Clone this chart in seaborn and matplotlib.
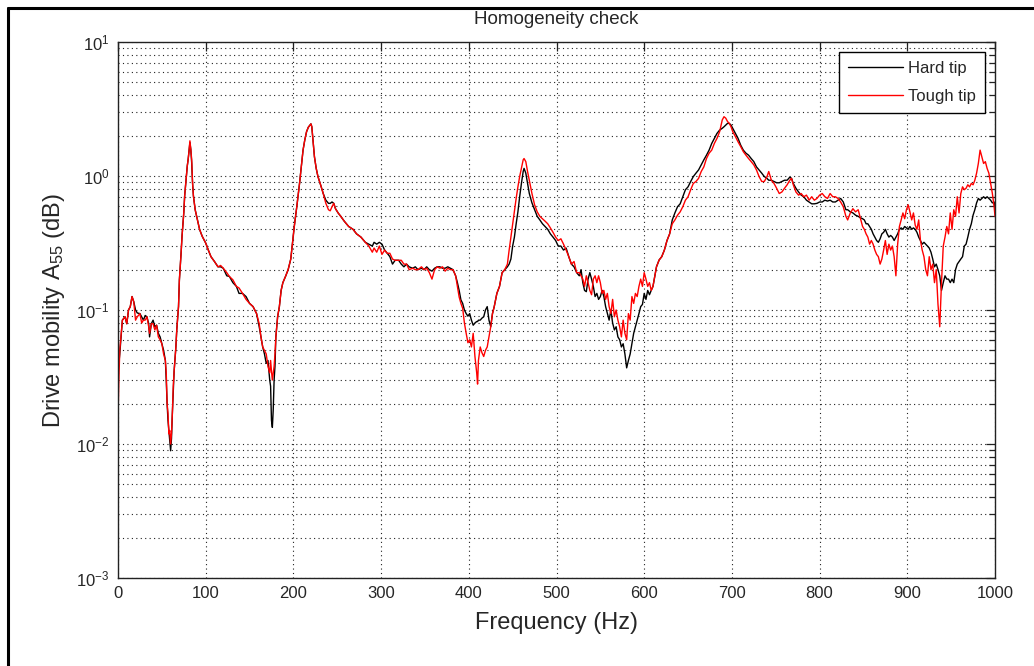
import numpy as np
import pandas as pd
import matplotlib
matplotlib.use("Agg")
import matplotlib.pyplot as plt
import seaborn as sns
from matplotlib.lines import Line2D
from matplotlib.ticker import LogLocator, NullFormatter, MultipleLocator

# ---------------- data ----------------
freq = [
    0, 1, 2, 5, 8, 10, 12, 14, 16, 18,
    20, 22, 25, 27, 29, 31, 33, 35, 36, 38,
    40, 42, 44, 46, 48, 50, 52, 54, 55, 56,
    57, 58, 59, 60, 61, 62, 63, 64, 66, 67,
    69, 70, 72, 73, 75, 76, 78, 79, 80, 81,
    82, 83, 84, 85, 86, 88, 90, 93, 96, 100,
    103, 106, 110, 114, 117, 120, 124, 127, 131, 135,
    138, 142, 146, 150, 154, 158, 161, 163, 165, 167,
    169, 171, 173, 174, 175, 176, 177, 178, 179, 180,
    182, 184, 186, 188, 191, 194, 197, 199, 201, 204,
    207, 209, 211, 213, 215, 217, 219, 220, 221, 222,
    224, 226, 228, 231, 234, 237, 240, 242, 244, 246,
    248, 251, 254, 258, 263, 268, 272, 277, 282, 286,
    290, 292, 295, 298, 301, 304, 307, 310, 313, 316,
    320, 323, 326, 329, 332, 336, 339, 342, 346, 349,
    352, 355, 358, 361, 364, 367, 370, 373, 376, 379,
    382, 385, 387, 389, 391, 393, 395, 397, 399, 401,
    403, 405, 407, 409, 410, 411, 413, 415, 417, 419,
    421, 423, 425, 427, 429, 432, 435, 438, 441, 444,
    446, 448, 450, 452, 454, 456, 458, 460, 462, 463,
    465, 467, 469, 472, 475, 478, 481, 484, 487, 490,
    493, 496, 499, 502, 505, 508, 511, 514, 517, 520,
    523, 526, 528, 530, 532, 534, 536, 538, 540, 542,
    544, 546, 548, 550, 552, 554, 556, 558, 560, 562,
    564, 566, 568, 570, 572, 574, 576, 578, 580, 582,
    584, 586, 588, 590, 592, 594, 596, 598, 600, 602,
    604, 606, 608, 610, 612, 614, 617, 620, 623, 626,
    629, 632, 635, 638, 641, 644, 647, 650, 653, 656,
    659, 662, 665, 668, 671, 674, 677, 680, 683, 686,
    689, 691, 693, 695, 697, 699, 701, 704, 707, 710,
    713, 716, 719, 722, 725, 728, 731, 734, 737, 740,
    742, 745, 748, 751, 754, 757, 760, 763, 766, 768,
    770, 773, 776, 779, 782, 785, 788, 791, 794, 797,
    800, 803, 806, 809, 812, 815, 818, 821, 824, 827,
    830, 832, 835, 838, 841, 844, 846, 849, 851, 853,
    855, 857, 859, 861, 863, 865, 867, 869, 871, 873,
    875, 877, 879, 881, 883, 885, 887, 889, 891, 893,
    895, 897, 899, 901, 903, 905, 907, 909, 911, 913,
    915, 917, 919, 921, 923, 925, 927, 929, 931, 933,
    935, 937, 939, 941, 943, 945, 947, 949, 951, 953,
    955, 957, 959, 961, 963, 965, 967, 969, 971, 973,
    975, 977, 979, 981, 983, 985, 987, 989, 991, 993,
    995, 997, 999, 1000,
]

hard_tip = [
    0.035, 0.040, 0.047, 0.084, 0.089, 0.079, 0.100, 0.106, 0.126, 0.115,
    0.100, 0.095, 0.094, 0.089, 0.084, 0.091, 0.089, 0.079, 0.063, 0.079,
    0.084, 0.075, 0.077, 0.067, 0.063, 0.056, 0.050, 0.042, 0.030, 0.020,
    0.015, 0.0126, 0.0105, 0.0089, 0.011, 0.017, 0.024, 0.035, 0.053, 0.071,
    0.106, 0.168, 0.27, 0.355, 0.53, 0.71, 1.00, 1.19, 1.33, 1.54,
    1.78, 1.58, 1.26, 0.89, 0.71, 0.56, 0.49, 0.40, 0.355, 0.316,
    0.28, 0.25, 0.23, 0.21, 0.21, 0.205, 0.18, 0.178, 0.16, 0.15,
    0.133, 0.133, 0.126, 0.112, 0.106, 0.094, 0.075, 0.063, 0.053, 0.047,
    0.040, 0.042, 0.030, 0.027, 0.015, 0.0133, 0.018, 0.030, 0.038, 0.063,
    0.089, 0.106, 0.14, 0.16, 0.178, 0.20, 0.24, 0.316, 0.42, 0.60,
    0.88, 1.17, 1.56, 1.86, 2.14, 2.31, 2.40, 2.45, 2.33, 1.97,
    1.39, 1.14, 0.99, 0.86, 0.74, 0.66, 0.625, 0.625, 0.64, 0.625,
    0.57, 0.53, 0.50, 0.46, 0.42, 0.40, 0.37, 0.35, 0.32, 0.31,
    0.30, 0.32, 0.31, 0.32, 0.31, 0.28, 0.265, 0.25, 0.22, 0.235,
    0.235, 0.22, 0.21, 0.22, 0.21, 0.205, 0.21, 0.20, 0.205, 0.20,
    0.21, 0.20, 0.195, 0.205, 0.21, 0.21, 0.205, 0.205, 0.21, 0.205,
    0.20, 0.18, 0.16, 0.14, 0.119, 0.112, 0.100, 0.094, 0.090, 0.094,
    0.084, 0.077, 0.080, 0.082, 0.082, 0.084, 0.084, 0.087, 0.089, 0.100,
    0.106, 0.084, 0.075, 0.094, 0.106, 0.133, 0.15, 0.19, 0.20, 0.21,
    0.22, 0.24, 0.30, 0.35, 0.44, 0.54, 0.70, 0.88, 1.08, 1.14,
    1.05, 0.88, 0.74, 0.63, 0.56, 0.50, 0.47, 0.44, 0.42, 0.40,
    0.37, 0.35, 0.33, 0.30, 0.30, 0.28, 0.29, 0.25, 0.22, 0.21,
    0.19, 0.18, 0.20, 0.16, 0.14, 0.137, 0.17, 0.19, 0.17, 0.15,
    0.126, 0.133, 0.12, 0.126, 0.14, 0.126, 0.106, 0.094, 0.084, 0.10,
    0.08, 0.071, 0.075, 0.063, 0.060, 0.053, 0.056, 0.047, 0.037, 0.042,
    0.047, 0.056, 0.067, 0.075, 0.084, 0.094, 0.106, 0.11, 0.133, 0.12,
    0.14, 0.13, 0.14, 0.15, 0.177, 0.21, 0.236, 0.25, 0.28, 0.33,
    0.37, 0.47, 0.53, 0.59, 0.62, 0.70, 0.79, 0.83, 0.91, 0.99,
    1.05, 1.11, 1.21, 1.32, 1.43, 1.56, 1.75, 1.91, 2.08, 2.20,
    2.27, 2.33, 2.40, 2.47, 2.47, 2.40, 2.27, 2.08, 1.91, 1.70,
    1.56, 1.48, 1.43, 1.35, 1.28, 1.17, 1.11, 1.05, 0.99, 0.96,
    0.93, 0.93, 0.91, 0.89, 0.89, 0.91, 0.93, 0.93, 0.98, 0.96,
    0.88, 0.81, 0.76, 0.72, 0.70, 0.66, 0.64, 0.62, 0.62, 0.625,
    0.64, 0.64, 0.66, 0.65, 0.66, 0.64, 0.64, 0.66, 0.68, 0.64,
    0.56, 0.56, 0.54, 0.53, 0.51, 0.50, 0.49, 0.48, 0.47, 0.44,
    0.44, 0.42, 0.40, 0.37, 0.35, 0.33, 0.32, 0.34, 0.37, 0.38,
    0.40, 0.37, 0.35, 0.36, 0.35, 0.33, 0.35, 0.37, 0.40, 0.41,
    0.40, 0.42, 0.41, 0.40, 0.42, 0.40, 0.41, 0.40, 0.38, 0.35,
    0.33, 0.31, 0.32, 0.31, 0.30, 0.29, 0.27, 0.24, 0.21, 0.22,
    0.20, 0.18, 0.14, 0.16, 0.18, 0.17, 0.17, 0.16, 0.17, 0.16,
    0.20, 0.22, 0.23, 0.24, 0.25, 0.30, 0.31, 0.35, 0.40, 0.44,
    0.51, 0.56, 0.63, 0.68, 0.66, 0.68, 0.70, 0.68, 0.70, 0.68,
    0.66, 0.63, 0.64, 0.57,
]

tough_tip = [
    0.016, 0.030, 0.050, 0.084, 0.089, 0.079, 0.100, 0.106, 0.126, 0.115,
    0.084, 0.089, 0.094, 0.080, 0.084, 0.084, 0.089, 0.075, 0.067, 0.079,
    0.079, 0.071, 0.077, 0.063, 0.060, 0.056, 0.047, 0.042, 0.034, 0.020,
    0.017, 0.0119, 0.0126, 0.0100, 0.012, 0.017, 0.027, 0.035, 0.053, 0.071,
    0.106, 0.168, 0.27, 0.355, 0.53, 0.71, 1.00, 1.19, 1.33, 1.54,
    1.83, 1.58, 1.33, 0.89, 0.71, 0.56, 0.49, 0.40, 0.355, 0.316,
    0.28, 0.25, 0.23, 0.21, 0.215, 0.205, 0.19, 0.178, 0.168, 0.15,
    0.146, 0.133, 0.12, 0.112, 0.106, 0.094, 0.079, 0.063, 0.053, 0.050,
    0.047, 0.038, 0.034, 0.042, 0.035, 0.030, 0.034, 0.038, 0.047, 0.063,
    0.089, 0.106, 0.14, 0.16, 0.178, 0.20, 0.24, 0.316, 0.42, 0.60,
    0.88, 1.17, 1.56, 1.86, 2.14, 2.31, 2.40, 2.45, 2.33, 1.97,
    1.39, 1.14, 0.99, 0.86, 0.74, 0.625, 0.56, 0.55, 0.59, 0.625,
    0.57, 0.53, 0.50, 0.46, 0.42, 0.40, 0.37, 0.35, 0.32, 0.30,
    0.27, 0.29, 0.27, 0.30, 0.26, 0.28, 0.265, 0.265, 0.24, 0.235,
    0.235, 0.235, 0.22, 0.22, 0.20, 0.205, 0.20, 0.20, 0.21, 0.20,
    0.205, 0.19, 0.17, 0.20, 0.21, 0.205, 0.21, 0.195, 0.205, 0.20,
    0.20, 0.18, 0.15, 0.125, 0.112, 0.103, 0.080, 0.067, 0.057, 0.060,
    0.053, 0.067, 0.045, 0.034, 0.028, 0.042, 0.053, 0.048, 0.045, 0.050,
    0.053, 0.063, 0.075, 0.094, 0.106, 0.133, 0.15, 0.19, 0.20, 0.22,
    0.28, 0.35, 0.44, 0.54, 0.68, 0.83, 0.99, 1.14, 1.32, 1.35,
    1.28, 1.08, 0.93, 0.74, 0.61, 0.54, 0.50, 0.48, 0.46, 0.44,
    0.41, 0.38, 0.35, 0.33, 0.34, 0.31, 0.28, 0.25, 0.22, 0.23,
    0.19, 0.19, 0.18, 0.17, 0.15, 0.18, 0.16, 0.14, 0.13, 0.17,
    0.18, 0.16, 0.18, 0.16, 0.133, 0.14, 0.12, 0.133, 0.106, 0.094,
    0.12, 0.089, 0.10, 0.084, 0.075, 0.063, 0.084, 0.067, 0.060, 0.094,
    0.084, 0.126, 0.112, 0.133, 0.126, 0.15, 0.17, 0.15, 0.19, 0.17,
    0.15, 0.16, 0.14, 0.15, 0.177, 0.21, 0.236, 0.25, 0.28, 0.33,
    0.37, 0.44, 0.47, 0.51, 0.54, 0.59, 0.66, 0.70, 0.79, 0.88,
    0.91, 0.96, 1.08, 1.17, 1.35, 1.48, 1.56, 1.75, 1.91, 2.14,
    2.62, 2.77, 2.70, 2.55, 2.47, 2.33, 2.14, 1.97, 1.80, 1.66,
    1.52, 1.43, 1.35, 1.28, 1.21, 1.11, 0.99, 0.91, 0.91, 0.99,
    1.08, 0.93, 0.88, 0.81, 0.74, 0.76, 0.81, 0.86, 0.93, 0.96,
    0.86, 0.76, 0.72, 0.74, 0.70, 0.72, 0.66, 0.70, 0.66, 0.68,
    0.72, 0.74, 0.70, 0.68, 0.74, 0.70, 0.70, 0.68, 0.64, 0.59,
    0.50, 0.47, 0.53, 0.57, 0.54, 0.56, 0.50, 0.42, 0.40, 0.37,
    0.35, 0.31, 0.33, 0.31, 0.28, 0.26, 0.25, 0.22, 0.24, 0.28,
    0.33, 0.26, 0.31, 0.28, 0.30, 0.25, 0.18, 0.31, 0.42, 0.47,
    0.53, 0.48, 0.56, 0.61, 0.54, 0.47, 0.53, 0.43, 0.40, 0.47,
    0.33, 0.28, 0.25, 0.20, 0.18, 0.25, 0.20, 0.22, 0.16, 0.20,
    0.11, 0.075, 0.16, 0.30, 0.35, 0.42, 0.37, 0.53, 0.40, 0.56,
    0.50, 0.70, 0.53, 0.74, 0.83, 0.79, 0.81, 0.86, 0.83, 0.88,
    0.86, 0.93, 1.05, 1.24, 1.56, 1.39, 1.24, 1.28, 1.14, 1.05,
    0.88, 0.74, 0.59, 0.50,
]

series_names = ["Hard tip", "Tough tip"]
series_colors = ["black", "red"]

assert len(freq) == len(hard_tip) == len(tough_tip), (len(freq), len(hard_tip), len(tough_tip))

n = len(freq)
df = pd.DataFrame({
    "Frequency": freq + freq,
    "Mobility": hard_tip + tough_tip,
    "Tip": [series_names[0]] * n + [series_names[1]] * n,
})

# ---------------- style ----------------
sns.set_style("white")
plt.rcParams["font.family"] = ["Liberation Sans", "DejaVu Sans"]
plt.rcParams["mathtext.default"] = "regular"

W, H = 1034, 666
fig = plt.figure(figsize=(W / 100, H / 100), dpi=100)
fig.patch.set_facecolor("white")
ax = fig.add_axes([118 / W, 1 - 578 / H, (995 - 118) / W, (578 - 42) / H])

sns.lineplot(
    data=df, x="Frequency", y="Mobility", hue="Tip",
    hue_order=series_names,
    palette=dict(zip(series_names, series_colors)),
    estimator=None, sort=False, linewidth=1.0, ax=ax,
)

ax.set_yscale("log")
ax.set_xlim(0, 1000)
ax.set_ylim(1e-3, 1e1)
ax.xaxis.set_major_locator(MultipleLocator(100))
ax.yaxis.set_major_locator(LogLocator(base=10, numticks=10))
ax.yaxis.set_minor_locator(LogLocator(base=10, subs=np.arange(2, 10), numticks=100))
ax.yaxis.set_minor_formatter(NullFormatter())

grid_kw = dict(linestyle=(0, (1, 3)), linewidth=0.8, color="#222222")
ax.grid(True, which="major", axis="both", **grid_kw)
ax.grid(True, which="minor", axis="y", **grid_kw)
ax.set_axisbelow(True)

ax.tick_params(which="both", direction="in", top=True, right=True,
               color="#222222", width=0.9)
ax.tick_params(which="major", length=6.5, labelsize=12, pad=6)
ax.tick_params(which="minor", length=4.5)
for sp in ax.spines.values():
    sp.set_color("#222222")
    sp.set_linewidth(1.0)

ax.set_xlabel("Frequency (Hz)", fontsize=17, labelpad=8)
ax.set_ylabel("Drive mobility A$_{55}$ (dB)", fontsize=17, labelpad=7)
ax.set_title("Homogeneity check", fontsize=13.5, pad=13)

handles, labels = ax.get_legend_handles_labels()
pairs = [(h, l) for h, l in zip(handles, labels) if l in series_names]
leg = ax.legend([p[0] for p in pairs], [p[1] for p in pairs],
                loc="upper right", fontsize=12, frameon=True, fancybox=False,
                edgecolor="black", framealpha=1, handlelength=3.3,
                handletextpad=0.3,
                borderaxespad=0.6, borderpad=0.55, labelspacing=0.75)
leg.get_frame().set_linewidth(1.0)

# figure frame (top and left edges visible in the reference)
fig.add_artist(Line2D([7.5 / W, 7.5 / W], [0, 1 - 7.5 / H], color="black", lw=2.2,
                      transform=fig.transFigure))
fig.add_artist(Line2D([7.5 / W, 1], [1 - 7.5 / H, 1 - 7.5 / H], color="black", lw=2.2,
                      transform=fig.transFigure))

fig.savefig("out.png", dpi=100)
